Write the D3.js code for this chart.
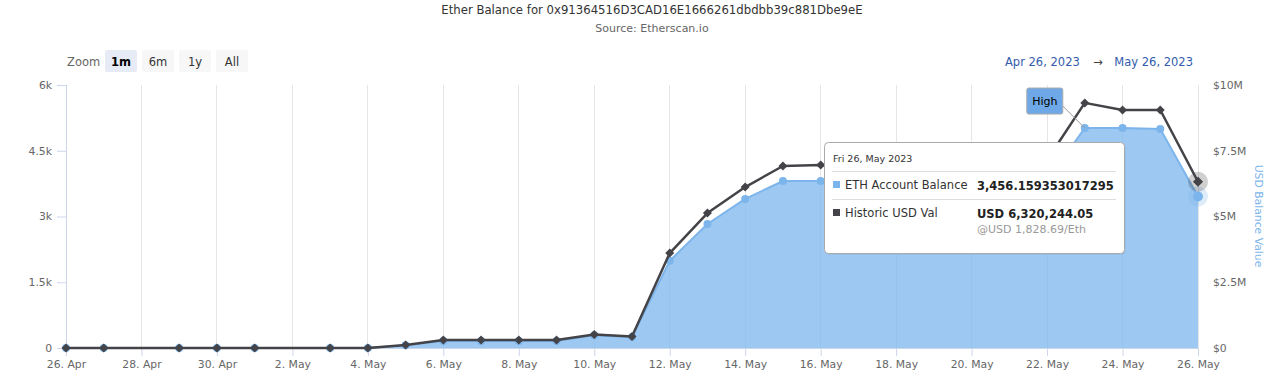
<!DOCTYPE html>
<html><head><meta charset="utf-8">
<script src="https://cdn.jsdelivr.net/npm/d3@7"></script>
<style>
body{margin:0;background:#fff;}
svg{display:block;font-family:"DejaVu Sans",Verdana,sans-serif;}
</style></head>
<body><svg id="c" width="1266" height="384"></svg>
<script>
const dates = ["2023-04-26","2023-04-27","2023-04-29","2023-04-30","2023-05-01","2023-05-03","2023-05-04",
  "2023-05-05","2023-05-06","2023-05-07","2023-05-08","2023-05-09","2023-05-10","2023-05-11","2023-05-12",
  "2023-05-13","2023-05-14","2023-05-15","2023-05-16","2023-05-17","2023-05-18","2023-05-19","2023-05-20",
  "2023-05-21","2023-05-22","2023-05-23","2023-05-24","2023-05-25","2023-05-26"];
const ethBalance = [0,0,0,0,0,0,0,
  60,160,160,160,160,290,250,1990,
  2830,3400,3810,3810,3810,3810,3810,3810,
  3810,3810,5018,5018,4995,3456.16];
const usdValue = [0,0,0,0,0,0,0,
  0.11e6,0.30e6,0.30e6,0.30e6,0.30e6,0.51e6,0.44e6,3.61e6,
  5.13e6,6.12e6,6.92e6,6.96e6,6.95e6,6.90e6,6.92e6,6.93e6,
  6.92e6,7.15e6,9.32e6,9.05e6,9.05e6,6.32e6];
const leftTicks = [0,1500,3000,4500,6000];
const leftTickLabels = ["0","1.5k","3k","4.5k","6k"];
const rightTicks = [0,2.5e6,5e6,7.5e6,10e6];
const rightTickLabels = ["$0","$2.5M","$5M","$7.5M","$10M"];
const xTickDates = ["2023-04-26","2023-04-28","2023-04-30","2023-05-02","2023-05-04","2023-05-06","2023-05-08",
  "2023-05-10","2023-05-12","2023-05-14","2023-05-16","2023-05-18","2023-05-20","2023-05-22","2023-05-24","2023-05-26"];
const zoomButtons = ["1m","6m","1y","All"];
const titleText = "Ether Balance for 0x91364516D3CAD16E1666261dbdbb39c881Dbe9eE";
const subtitleText = "Source: Etherscan.io";
const tooltipDate = "Fri 26, May 2023";
const tooltipRows = [["ETH Account Balance","3,456.159353017295"],["Historic USD Val","USD 6,320,244.05"]];
const tooltipNote = "@USD 1,828.69/Eth";

const parse = d3.utcParse("%Y-%m-%d");
const data = dates.map((d,i)=>({date:parse(d),eth:ethBalance[i],usd:usdValue[i]}));
const svg = d3.select("#c");
const L=66,R=1198,T=85,B=348;
const x = d3.scaleUtc().domain([parse(dates[0]),parse(dates[dates.length-1])]).range([L,R]);
const yL = d3.scaleLinear().domain([0,6000]).range([B,T]);
const yR = d3.scaleLinear().domain([0,10e6]).range([B,T]);
const axisColor="#666";

// title
svg.append("text").attr("x",652).attr("y",14).attr("text-anchor","middle").attr("font-size",11.7).attr("fill","#333").text(titleText);
svg.append("text").attr("x",652).attr("y",32).attr("text-anchor","middle").attr("font-size",11).attr("fill","#666").text(subtitleText);

// zoom buttons
svg.append("text").attr("x",67).attr("y",66).attr("font-size",11.5).attr("fill","#666").text("Zoom");
const bx=[105,142,179,216];
zoomButtons.forEach((b,i)=>{
  const g=svg.append("g");
  g.append("rect").attr("x",bx[i]).attr("y",50).attr("width",32).attr("height",22).attr("rx",2)
    .attr("fill",i===0?"#e6ebf5":"#f7f7f7");
  g.append("text").attr("x",bx[i]+16).attr("y",66).attr("text-anchor","middle").attr("font-size",11.5)
    .attr("font-weight",i===0?"bold":"normal").attr("fill",i===0?"#000":"#333").text(b);
});
// date range
svg.append("text").attr("x",1005).attr("y",66).attr("font-size",11.5).attr("fill","#335cad").text("Apr 26, 2023");
svg.append("text").attr("x",1098).attr("y",66).attr("text-anchor","middle").attr("font-size",11.5).attr("fill","#444").text("→");
svg.append("text").attr("x",1193).attr("y",66).attr("text-anchor","end").attr("font-size",11.5).attr("fill","#335cad").text("May 26, 2023");

// vertical grid
const xt = xTickDates.map(parse);
svg.append("g").selectAll("line").data(xt).join("line")
  .attr("x1",d=>x(d)).attr("x2",d=>x(d)).attr("y1",T).attr("y2",B).attr("stroke","#e6e6e6").attr("stroke-width",1).attr("shape-rendering","crispEdges");

// x axis
const xAxis = d3.axisBottom(x).tickValues(xt).tickSize(8).tickFormat(d3.utcFormat("%-d. %b"));
const gx = svg.append("g").attr("transform",`translate(0,${B})`).call(xAxis);
gx.select(".domain").attr("stroke","#ccd6eb");
gx.selectAll(".tick line").attr("stroke","#ccd6eb");
gx.selectAll(".tick text").attr("fill",axisColor).attr("font-size",10.8).attr("font-family","DejaVu Sans").attr("dy","0.9em").attr("y",10);

// left axis
const yAxisL = d3.axisLeft(yL).tickValues(leftTicks).tickSize(9).tickFormat((d,i)=>leftTickLabels[i]);
const gl = svg.append("g").attr("transform",`translate(${L},0)`).call(yAxisL);
gl.select(".domain").attr("stroke","#ccd6eb");
gl.selectAll(".tick line").attr("stroke","#ccd6eb");
gl.selectAll(".tick text").attr("fill",axisColor).attr("font-size",10.8).attr("font-family","DejaVu Sans").attr("x",-14);

// right axis
const yAxisR = d3.axisRight(yR).tickValues(rightTicks).tickSize(0).tickFormat((d,i)=>rightTickLabels[i]);
const gr = svg.append("g").attr("transform",`translate(${R},0)`).call(yAxisR);
gr.select(".domain").remove();
gr.selectAll(".tick text").attr("fill",axisColor).attr("font-size",10.8).attr("font-family","DejaVu Sans").attr("x",15);
svg.append("text").attr("transform","translate(1255,216) rotate(90)").attr("text-anchor","middle")
  .attr("font-size",10.8).attr("fill","#7cb5ec").text("USD Balance Value");

// area
const area = d3.area().x(d=>x(d.date)).y0(yL(0)).y1(d=>yL(d.eth));
svg.append("path").datum(data).attr("d",area).attr("fill","#7cb5ec").attr("fill-opacity",0.75);
const lineE = d3.line().x(d=>x(d.date)).y(d=>yL(d.eth));
svg.append("path").datum(data).attr("d",lineE).attr("fill","none").attr("stroke","#7cb5ec").attr("stroke-width",2);
svg.append("g").selectAll("circle").data(data).join("circle")
  .attr("cx",d=>x(d.date)).attr("cy",d=>yL(d.eth)).attr("r",4).attr("fill","#7cb5ec");

// usd line
const lineU = d3.line().x(d=>x(d.date)).y(d=>yR(d.usd));
svg.append("path").datum(data).attr("d",lineU).attr("fill","none").attr("stroke","#434348").attr("stroke-width",2.5).attr("stroke-linejoin","round");
svg.append("g").selectAll("path").data(data).join("path")
  .attr("transform",d=>`translate(${x(d.date)},${yR(d.usd)})`)
  .attr("d","M0,-4.5L4.5,0L0,4.5L-4.5,0Z").attr("fill","#434348");

// hover halos on last point
const last = data[data.length-1];
svg.append("circle").attr("cx",x(last.date)).attr("cy",yL(last.eth)).attr("r",10).attr("fill","#7cb5ec").attr("fill-opacity",0.25);
svg.append("circle").attr("cx",x(last.date)).attr("cy",yL(last.eth)).attr("r",5).attr("fill","#7cb5ec");
svg.append("circle").attr("cx",x(last.date)).attr("cy",yR(last.usd)).attr("r",10).attr("fill","#434348").attr("fill-opacity",0.25);
svg.append("path").attr("transform",`translate(${x(last.date)},${yR(last.usd)})`).attr("d","M0,-5L5,0L0,5L-5,0Z").attr("fill","#434348");

// High flag
const hi = data[d3.maxIndex(data,d=>d.eth)];
const hx = x(hi.date), hy = yL(hi.eth);
svg.append("line").attr("x1",hx-22).attr("y1",hy-22).attr("x2",hx).attr("y2",hy).attr("stroke","#999");
svg.append("rect").attr("x",hx-58).attr("y",hy-40).attr("width",36).attr("height",26).attr("rx",2)
  .attr("fill","#6fa8e6").attr("stroke","#aaa");
svg.append("text").attr("x",hx-40).attr("y",hy-23).attr("text-anchor","middle").attr("font-size",11).attr("fill","#000").text("High");

// tooltip
const tt = svg.append("g").attr("transform","translate(824,142)");
tt.append("rect").attr("x",1.5).attr("y",1.5).attr("width",300).attr("height",111).attr("rx",4).attr("fill","#000").attr("fill-opacity",0.08);
tt.append("rect").attr("x",0.5).attr("y",0.5).attr("width",300).attr("height",111).attr("rx",4).attr("fill","#fff").attr("stroke","#aaa");
tt.append("text").attr("x",9).attr("y",20).attr("font-size",9.5).attr("fill","#333").text(tooltipDate);
tt.append("line").attr("x1",8).attr("x2",292).attr("y1",29.5).attr("y2",29.5).attr("stroke","#ddd");
tt.append("line").attr("x1",8).attr("x2",292).attr("y1",57.5).attr("y2",57.5).attr("stroke","#ddd");
const colors=["#7cb5ec","#434348"];
tooltipRows.forEach((r,i)=>{
  const yy = 47+i*28;
  tt.append("rect").attr("x",9).attr("y",yy-8).attr("width",7).attr("height",7).attr("fill",colors[i]);
  tt.append("text").attr("x",21).attr("y",yy).attr("font-size",11.5).attr("fill","#333").text(r[0]);
  tt.append("text").attr("x",153).attr("y",yy+1).attr("font-size",11.5).attr("font-weight","bold").attr("fill","#222").text(r[1]);
});
tt.append("text").attr("x",153).attr("y",91).attr("font-size",11).attr("fill","#999").text(tooltipNote);
</script></body></html>
